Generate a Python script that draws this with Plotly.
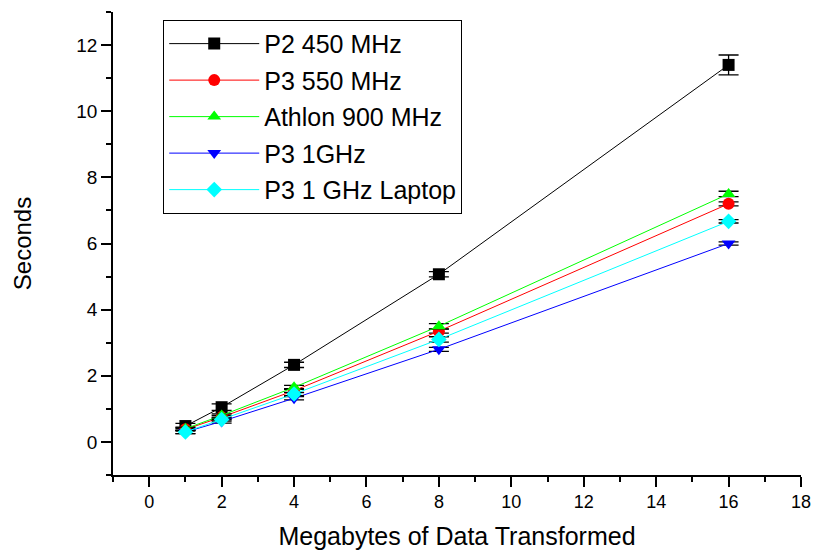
import plotly.graph_objects as go

x_mb = [1, 2, 4, 8, 16]
series_names = ["P2 450 MHz", "P3 550 MHz", "Athlon 900 MHz", "P3 1GHz", "P3 1 GHz Laptop"]
p2_450 = [0.48, 1.05, 2.33, 5.07, 11.40]
p3_550 = [0.38, 0.75, 1.55, 3.35, 7.20]
athlon_900 = [0.40, 0.80, 1.65, 3.50, 7.50]
p3_1ghz = [0.30, 0.62, 1.32, 2.80, 6.00]
p3_1ghz_laptop = [0.30, 0.68, 1.45, 3.10, 6.67]
err_p2 = [0.08, 0.10, 0.08, 0.08, 0.30]
err_p3_550 = [0.05, 0.05, 0.06, 0.06, 0.06]
err_athlon = [0.05, 0.05, 0.06, 0.08, 0.08]
err_p3_1ghz = [0.05, 0.05, 0.05, 0.06, 0.05]
err_laptop = [0.05, 0.05, 0.05, 0.08, 0.05]

colors = ["#000000", "#ff0000", "#00ff00", "#0000ff", "#00ffff"]
symbols = ["square", "circle", "triangle-up", "triangle-down", "diamond"]
values = [p2_450, p3_550, athlon_900, p3_1ghz, p3_1ghz_laptop]
errors = [err_p2, err_p3_550, err_athlon, err_p3_1ghz, err_laptop]

FONT = "Liberation Sans, Arial, sans-serif"

fig = go.Figure()
for name, ys, errs, c, s in zip(series_names, values, errors, colors, symbols):
    fig.add_trace(go.Scatter(
        x=x_mb, y=ys, name=name, mode="lines+markers",
        line=dict(color=c, width=1),
        marker=dict(symbol=s, size=12, color=c),
        error_y=dict(type="data", array=errs, visible=True, color="black", thickness=1.3, width=10),
        legendgroup=name,
    ))

def axis_common(fs):
    return dict(
        showline=True, linecolor="black", linewidth=1.5, mirror=False,
        showgrid=False, zeroline=False,
        ticks="outside", ticklen=10, tickwidth=1.5, tickcolor="black",
        tickfont=dict(family=FONT, size=fs, color="black"),
        minor=dict(ticks="outside", ticklen=5, tickwidth=1.5, tickcolor="black", dtick=1),
    )

fig.update_xaxes(range=[-1, 18], dtick=2, tick0=0, automargin=False,
                 title=dict(text="Megabytes of Data Transformed", standoff=16,
                            font=dict(family=FONT, size=25, color="black")),
                 **axis_common(18))
fig.update_yaxes(range=[-1, 13], dtick=2, tick0=0,
                 title=dict(text="Seconds", standoff=38,
                            font=dict(family=FONT, size=24, color="black")),
                 **axis_common(19))

fig.update_layout(
    width=818, height=557,
    margin=dict(l=113, r=17, t=12, b=82),
    plot_bgcolor="white", paper_bgcolor="white",
    font=dict(family=FONT, color="black"),
    legend=dict(x=0.073, y=0.983, xanchor="left", yanchor="top",
                bordercolor="black", borderwidth=1, bgcolor="white",
                font=dict(size=25, color="black"), tracegroupgap=1,
                traceorder="grouped", itemwidth=90),
)

fig.write_html("out.html")
